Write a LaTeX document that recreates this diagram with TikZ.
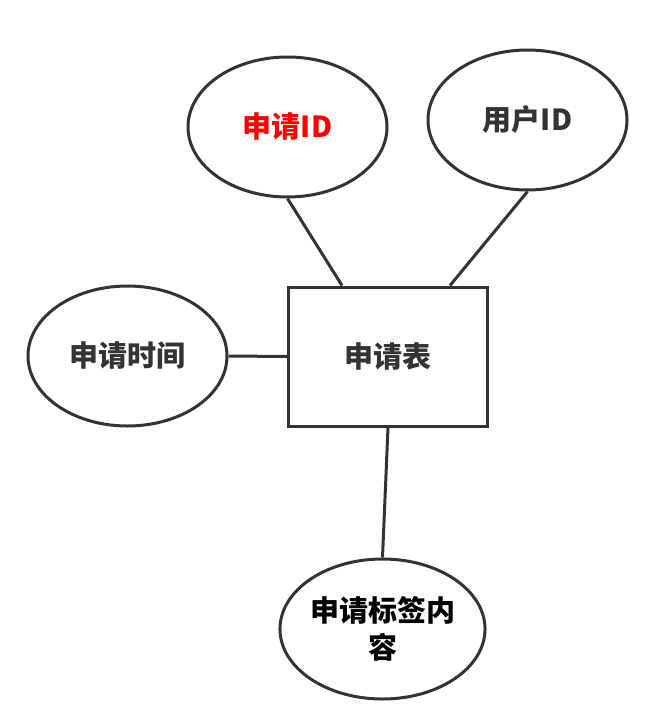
\documentclass[tikz,border=0pt]{standalone}
\usepackage{fontspec}
\setmainfont{Noto Sans CJK SC}
\usepackage{tikz}
\usetikzlibrary{shapes.geometric}
\definecolor{linegray}{HTML}{333333}
\tikzstyle{attr}=[ellipse, draw=linegray, line width=3pt, minimum width=199pt, minimum height=140pt, inner sep=0pt, align=center, text=linegray, font=\bfseries\fontsize{29}{37}\selectfont]
\tikzstyle{attrred}=[attr, text=red]
\tikzstyle{attrblack}=[attr, text=black]
\tikzstyle{entity}=[rectangle, draw=linegray, line width=3pt, minimum width=199pt, minimum height=139pt, inner sep=0pt, text=linegray, font=\bfseries\fontsize{29}{37}\selectfont]
\tikzstyle{link}=[draw=linegray, line width=3pt]

\begin{document}
\begin{tikzpicture}[x=1pt, y=-1pt]
		   \useasboundingbox (0, 0) rectangle (652, 709);
		   \begin{scope}
			   \node (table) at (388, 356.5)[entity] {申请表};
			   \node (reqid) at (287.5, 127)[attrred] {申请ID};
			   \node (userid) at (527.5, 120)[attr] {用户ID};
			   \node (reqtime) at (127.5, 356)[attr] {申请时间};
			   \node (content) at (382.5, 629)[attrblack] {申请标签内\\容};
		   \end{scope}
		   \begin{scope}
			   \path [link] (reqid.south) edge ([xshift=55pt]table.north west);
			   \path [link] (userid.south) edge ([xshift=-39pt]table.north east);
			   \path [link] (reqtime.east) edge (table.west);
			   \path [link] (table.south) edge (content.north);
		   \end{scope}
	   \end{tikzpicture}
\end{document}
